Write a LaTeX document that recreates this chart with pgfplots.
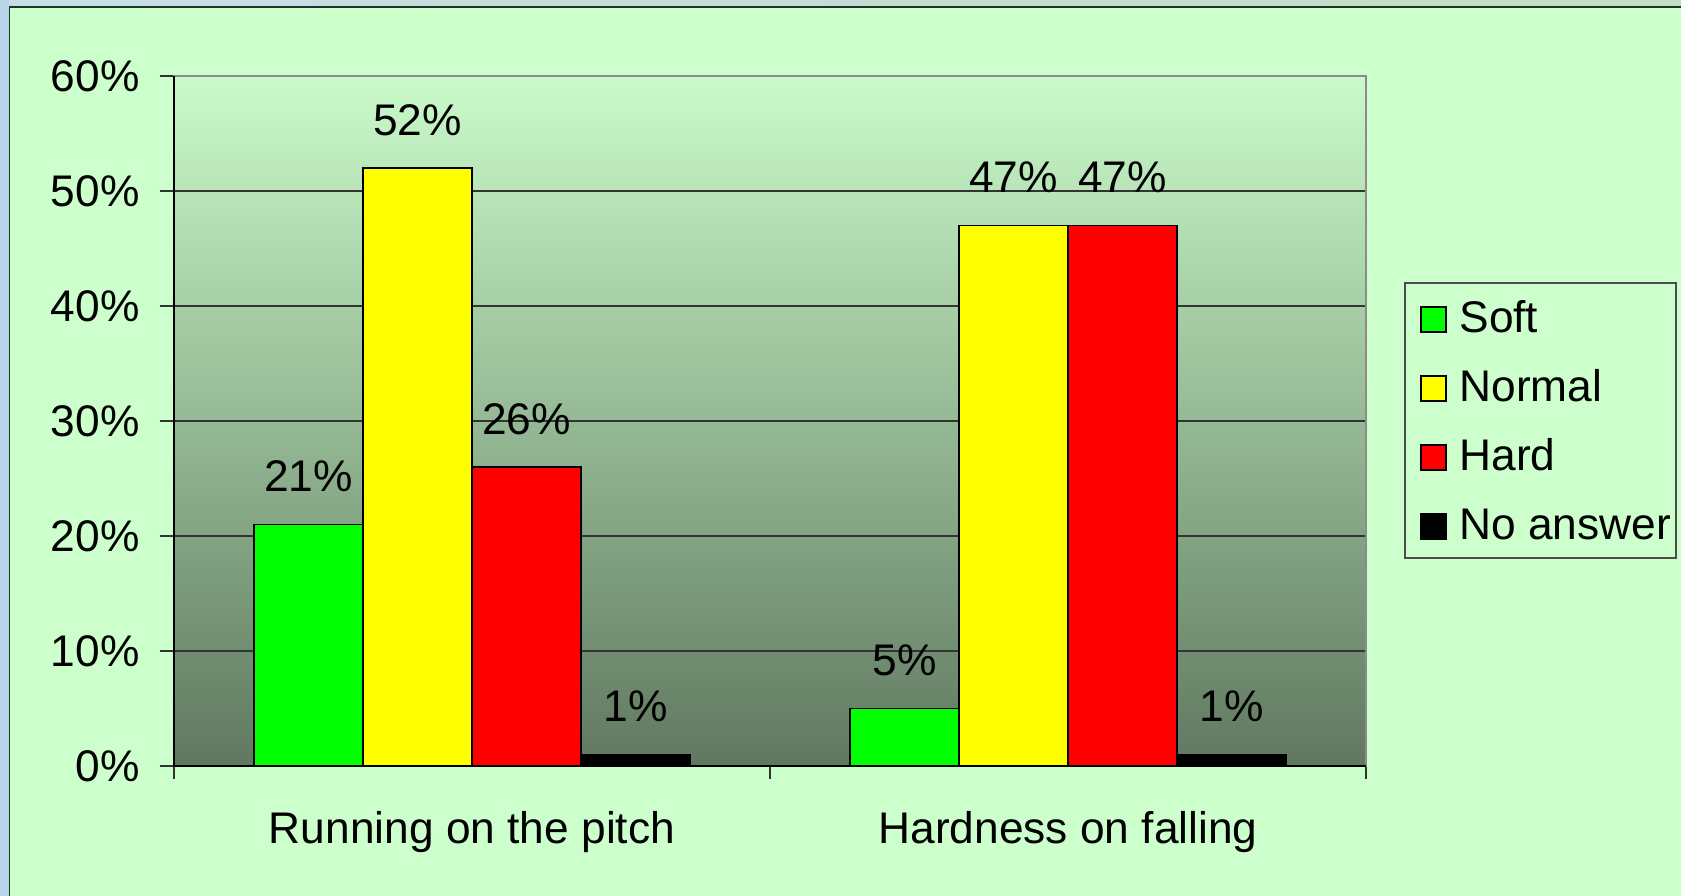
\documentclass[border=0pt]{standalone}
\usepackage{fontspec}
\setmainfont{Liberation Sans}
\usepackage{pgfplots}
\pgfplotsset{compat=1.18}

\definecolor{chartbg}{RGB}{204,255,204}
\definecolor{plottop}{RGB}{202,250,202}
\definecolor{plotbot}{RGB}{96,120,96}
\definecolor{winblue}{RGB}{184,212,234}
\definecolor{winbarL}{RGB}{196,222,232}
\definecolor{winbarR}{RGB}{196,220,192}
\definecolor{framedark}{RGB}{30,52,38}
\definecolor{softgreen}{RGB}{0,255,0}
\definecolor{normyellow}{RGB}{255,255,0}
\definecolor{hardred}{RGB}{255,0,0}

\newcommand{\chartfont}{\fontsize{12.6}{15}\selectfont}

\pgfplotstableread{
x  soft normal hard noans
1  21   52     26   1
2  5    47     47   1
}\surveydata

\begin{document}
\chartfont
\begin{tikzpicture}
% page and window edge
\path[use as bounding box, fill=chartbg] (0,0) rectangle (168.1mm,89.6mm);
\shade[left color=winbarL, right color=winbarR] (0,88.9mm) rectangle (168.1mm,89.6mm);
\fill[winblue] (0,0) rectangle (0.85mm,89.6mm);
\draw[framedark, line width=0.45pt] (0.95mm,0) -- (0.95mm,88.9mm) -- (168.1mm,88.9mm);

\begin{axis}[
  at={(17.4mm,13.0mm)}, anchor=south west,
  width=119.2mm, height=69mm, scale only axis,
  ybar=0pt, bar width=10.9mm,
  xmin=0.5, xmax=2.5, ymin=0, ymax=60,
  enlarge x limits=false,
  xtick={1,2},
  xticklabels={Running on the pitch, Hardness on falling},
  minor xtick={0.5,1.5,2.5},
  ytick={0,10,...,60},
  yticklabel={\pgfmathprintnumber{\tick}\%},
  /pgf/number format/assume math mode=true,
  xtick pos=bottom, ytick pos=left,
  tick align=outside,
  major tick length=1.4mm, minor tick length=1.3mm,
  major x tick style={draw=none},
  minor x tick style={black!80, line width=0.5pt},
  y tick style={black!80, line width=0.5pt},
  ymajorgrids,
  major grid style={black!80, line width=0.5pt},
  axis line style={draw=black!45, line width=0.6pt},
  axis background/.style={top color=plottop, bottom color=plotbot},
  tick label style={font=\chartfont, text=black},
  yticklabel style={xshift=-0.5mm},
  xticklabel style={yshift=-1.6mm},
  nodes near coords={\pgfmathprintnumber{\pgfplotspointmeta}\%},
  nodes near coords style={font=\chartfont, text=black, anchor=south, yshift=1.7mm},
  legend cell align=left,
  legend image code/.code={
    \path (0mm,0mm);
    \draw[#1, draw=black, line width=0.4pt] (1mm,-1.5mm) rectangle (3.5mm,1mm);},
  legend style={at={(1.0319,0.7014)}, anchor=north west,
    fill=chartbg, draw=black!70, line width=0.6pt,
    font=\chartfont, text=black,
    inner xsep=0.5mm, inner ysep=0.8mm, row sep=1.7mm,
    /tikz/every odd column/.append style={column sep=1.3mm},
    nodes={inner xsep=0mm, inner ysep=0.5mm, text height=3.6mm, text depth=0.6mm}},
  extra description/.code={
    \draw[black, line width=0.6pt] (axis description cs:0,1) -- (axis description cs:0,0) -- (axis description cs:1,0);
  },
]
\addplot[fill=softgreen, draw=black, line width=0.4pt] table[x=x, y=soft] {\surveydata};
\addplot[fill=normyellow, draw=black, line width=0.4pt] table[x=x, y=normal] {\surveydata};
\addplot[fill=hardred, draw=black, line width=0.4pt] table[x=x, y=hard] {\surveydata};
\addplot[fill=black, draw=black, line width=0.4pt] table[x=x, y=noans] {\surveydata};
\legend{Soft, Normal, Hard, No answer}
\end{axis}
\end{tikzpicture}
\end{document}
